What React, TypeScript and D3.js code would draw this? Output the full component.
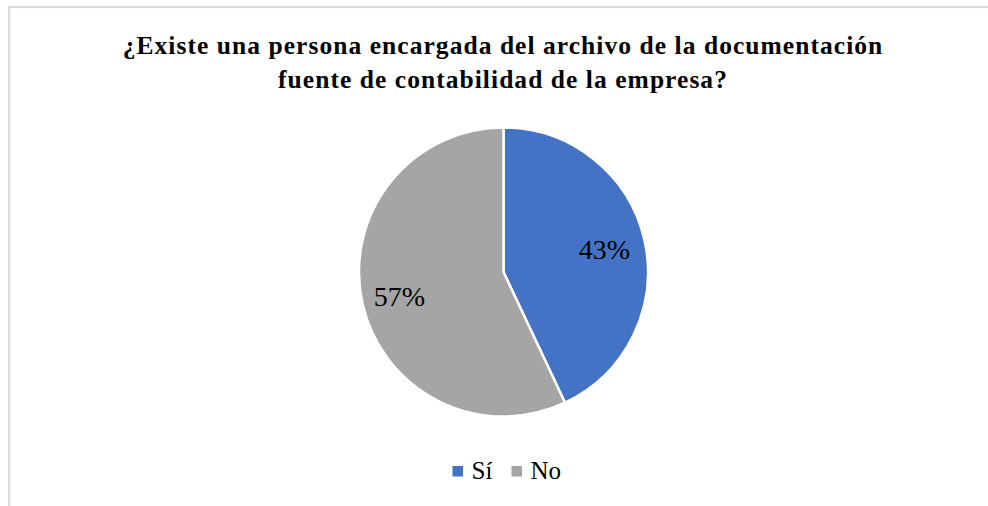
import React from "react";
import * as d3 from "d3";

const categories = ["Sí", "No"];
const values = [43, 57];
const colors = ["#4472C4", "#A5A5A5"];
const titleLines = [
  "¿Existe una persona encargada del archivo de la documentación",
  "fuente de contabilidad de la empresa?",
];

const W = 988;
const H = 506;

export default function App() {
  const cx = 503.5;
  const cy = 272;
  const r = 144.5;
  const data = categories.map((c, i) => ({ c, v: values[i], color: colors[i] }));
  const pie = d3
    .pie<any>()
    .sort(null)
    .value((d: any) => d.v)
    .startAngle(0)
    .endAngle(Math.PI * 2);
  const arcs = pie(data);
  const arc = d3.arc<any>().innerRadius(0).outerRadius(r);
  const total = d3.sum(values);
  const labelPos = [
    [604.5, 259],
    [399.5, 306],
  ];
  const serif = "'Liberation Serif', 'Times New Roman', serif";

  const legendX = [452.5, 511.5];

  return (
    <svg
      width={W}
      height={H}
      style={{ position: "absolute", left: 0, top: 0, background: "#fff" }}
    >
      <rect x={0} y={0} width={W} height={H} fill="#fff" />
      <rect
        x={9.2}
        y={7}
        width={W + 20}
        height={H + 20}
        fill="none"
        stroke="#d9d9d9"
        strokeWidth={2.2}
      />
      {titleLines.map((t, i) => (
        <text
          key={i}
          x={503}
          y={54 + i * 33.5}
          textAnchor="middle"
          fontFamily={serif}
          fontWeight="bold"
          fontSize={25.5}
          letterSpacing={1.05}
          fill="#000"
        >
          {t}
        </text>
      ))}
      <g transform={`translate(${cx},${cy})`}>
        {arcs.map((a, i) => (
          <path
            key={i}
            d={arc(a) as string}
            fill={a.data.color}
            stroke="#fff"
            strokeWidth={2.5}
            strokeLinejoin="round"
          />
        ))}
      </g>
      {arcs.map((a, i) => {
        const pct = Math.round((a.data.v / total) * 100) + "%";
        return (
          <text
            key={i}
            x={labelPos[i][0]}
            y={labelPos[i][1]}
            textAnchor="middle"
            fontFamily={serif}
            fontSize={28}
            fill="#000"
          >
            {pct}
          </text>
        );
      })}
      {data.map((d, i) => (
        <g key={i}>
          <rect x={legendX[i]} y={466} width={10.5} height={10.5} fill={d.color} />
          <text
            x={legendX[i] + 19}
            y={478.5}
            fontFamily={serif}
            fontSize={25}
            fill="#000"
          >
            {d.c}
          </text>
        </g>
      ))}
    </svg>
  );
}
